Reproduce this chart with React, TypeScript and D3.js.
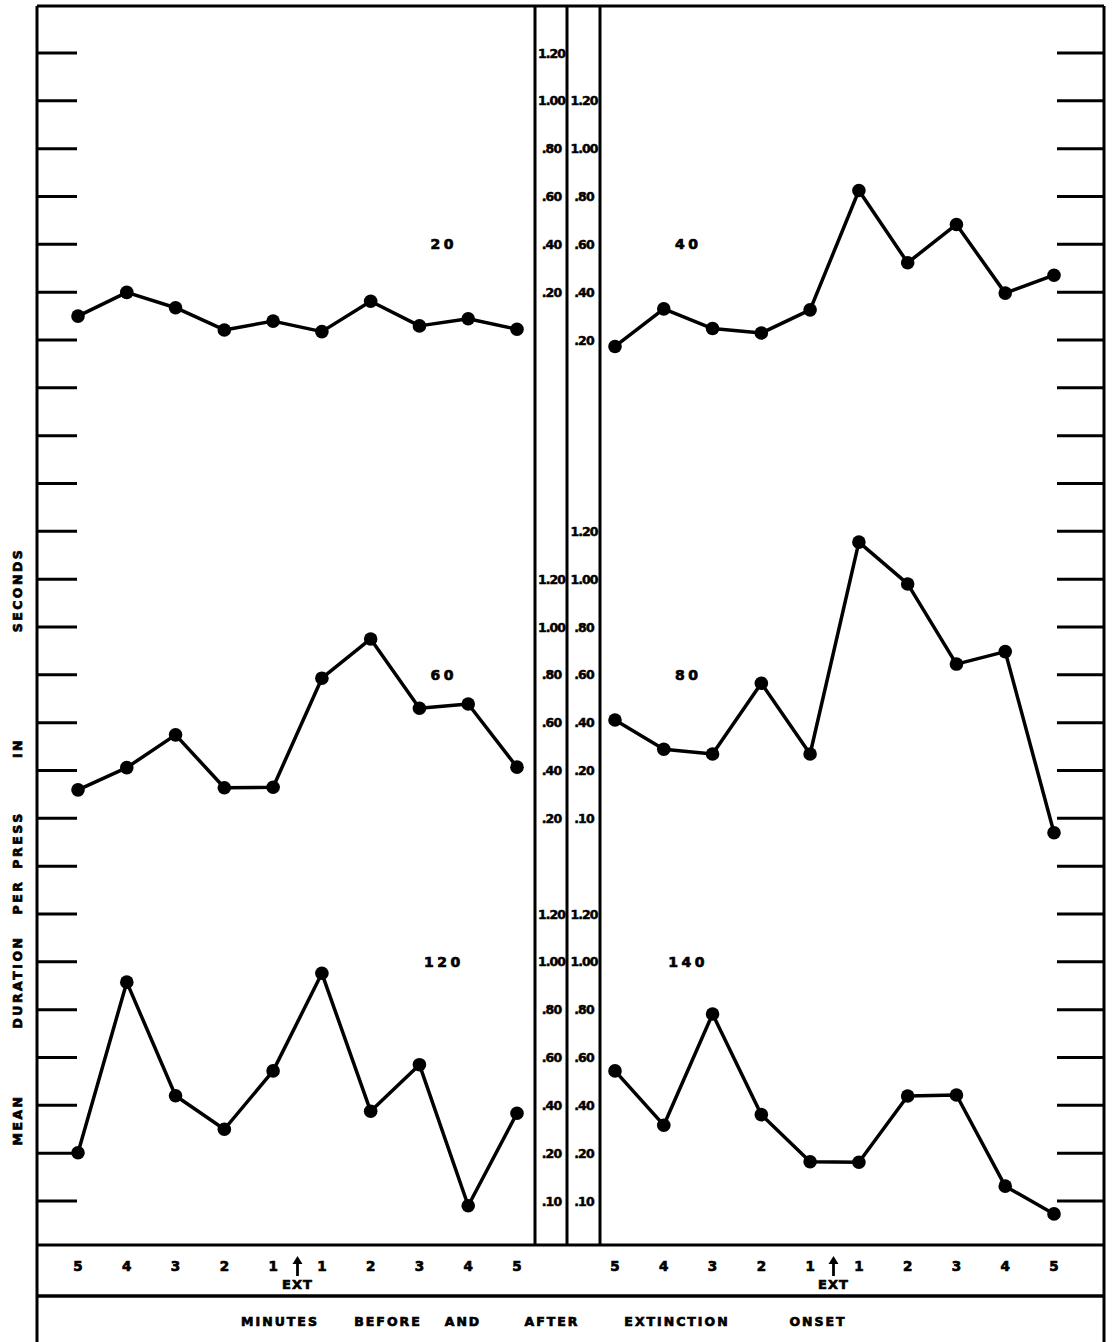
import React from "react";
import * as d3 from "d3";

// ---------- data ----------
const minuteLabels = ["5", "4", "3", "2", "1", "1", "2", "3", "4", "5"];
const scaleValues = [0.1, 0.2, 0.4, 0.6, 0.8, 1.0, 1.2];
const scaleLabels = [".10", ".20", ".40", ".60", ".80", "1.00", "1.20"];

const values20 = [0.100, 0.199, 0.135, 0.042, 0.079, 0.035, 0.162, 0.059, 0.089, 0.045];
const values40 = [0.173, 0.330, 0.248, 0.229, 0.326, 0.825, 0.523, 0.683, 0.396, 0.471];
const values60 = [0.319, 0.412, 0.549, 0.328, 0.330, 0.786, 0.950, 0.660, 0.678, 0.414];
const values80 = [0.411, 0.289, 0.269, 0.565, 0.269, 1.155, 0.980, 0.645, 0.697, 0.070];
const values120 = [0.202, 0.915, 0.440, 0.300, 0.544, 0.952, 0.375, 0.570, 0.090, 0.367];
const values140 = [0.544, 0.317, 0.782, 0.361, 0.182, 0.181, 0.439, 0.443, 0.131, 0.073];

const panelNames = ["20", "40", "60", "80", "120", "140"];
const panelValues = [values20, values40, values60, values80, values120, values140];
const panelSides = ["left", "right", "left", "right", "left", "right"];
const panelTick20 = [5, 6, 16, 15, 23, 23]; // tick index carrying the .20 label
const panelHasTenth = [false, false, false, true, true, true];
const panelLabelTick = [4, 4, 13, 13, 19, 19];

const yLabelWords = ["MEAN", "DURATION", "PER", "PRESS", "IN", "SECONDS"];
const xLabelWords = ["MINUTES", "BEFORE", "AND", "AFTER", "EXTINCTION", "ONSET"];

// ---------- layout ----------
const W = 1113;
const H = 1342;
const FL = 37, FR = 1104, FT = 6, PB = 1245, AB = 1296;
const colX = [535, 567, 600];
const FONT = "'DejaVu Sans', 'Liberation Sans', sans-serif";

const tickY = d3.scaleLinear().domain([0, 24]).range([53, 1201]);
const tickIdx = d3.range(25);
const xLeft = d3.scaleLinear().domain([0, 9]).range([78, 517]);
const xRight = d3.scaleLinear().domain([0, 9]).range([615, 1054]);

function panelScale(i: number) {
  const t = panelTick20[i];
  if (panelHasTenth[i]) {
    return d3.scaleLinear().domain([0, 0.1, 0.2, 1.2]).range([tickY(t + 2), tickY(t + 1), tickY(t), tickY(t - 5)]);
  }
  return d3.scaleLinear().domain([0, 0.2, 1.2]).range([tickY(t + 1), tickY(t), tickY(t - 5)]);
}

const heavy = { stroke: "#000", strokeWidth: 0.7, paintOrder: "stroke" as const };

export default function App() {
  const yLabelCenters = [1120, 982, 897, 840, 748, 590];
  const xLabelCenters = [280, 388, 463, 552, 677, 818];
  return (
    <svg width={W} height={H} style={{ position: "absolute", left: 0, top: 0, background: "#fff" }}
      fontFamily={FONT}>
      <rect x={0} y={0} width={W} height={H} fill="#fff" />
      {/* frame */}
      <g stroke="#000" strokeWidth={3} fill="none">
        <line x1={FL} y1={FT} x2={FR} y2={FT} />
        <line x1={FL} y1={FT} x2={FL} y2={H} />
        <line x1={FR} y1={FT} x2={FR} y2={H} />
        <line x1={FL} y1={PB} x2={FR} y2={PB} />
        <line x1={FL} y1={AB} x2={FR} y2={AB} strokeWidth={3.5} />
        {colX.map((x, i) => <line key={i} x1={x} y1={FT} x2={x} y2={PB} />)}
      </g>
      {/* side ticks */}
      <g stroke="#000" strokeWidth={3}>
        {tickIdx.map((i) => (
          <g key={i}>
            <line x1={FL} x2={77} y1={tickY(i)} y2={tickY(i)} />
            <line x1={1057} x2={FR} y1={tickY(i)} y2={tickY(i)} />
          </g>
        ))}
      </g>
      {/* center scale labels */}
      {panelNames.map((name, pi) => {
        const cx = panelSides[pi] === "left" ? (colX[0] + colX[1]) / 2 + 0.5 : (colX[1] + colX[2]) / 2 + 0.5;
        const t = panelTick20[pi];
        return (
          <g key={"s" + name} fontSize={12.5} fontWeight="bold" textAnchor="middle" letterSpacing={-0.9} {...heavy} strokeWidth={0.5}>
            {scaleValues.map((v, k) => {
              if (k === 0 && !panelHasTenth[pi]) return null;
              const idx = k === 0 ? t + 1 : t - (k - 1);
              return (
                <text key={k} x={cx} y={tickY(idx)} dy="0.36em">{scaleLabels[k]}</text>
              );
            })}
          </g>
        );
      })}
      {/* panels */}
      {panelNames.map((name, pi) => {
        const xs = panelSides[pi] === "left" ? xLeft : xRight;
        const ys = panelScale(pi);
        const vals = panelValues[pi];
        const line = d3.line<number>().x((_, i) => xs(i)).y((v) => ys(v));
        return (
          <g key={"p" + name}>
            <path d={line(vals) || ""} fill="none" stroke="#000" strokeWidth={3.5} strokeLinejoin="round" />
            {vals.map((v, i) => (
              <circle key={i} cx={xs(i)} cy={ys(v)} r={6.8} fill="#000" />
            ))}
            <text x={xs(panelSides[pi] === "left" ? 7.5 : 1.5)} y={tickY(panelLabelTick[pi])} dy="0.36em"
              textAnchor="middle" fontSize={14} fontWeight="bold" letterSpacing={3.5} {...heavy}>{name}</text>
          </g>
        );
      })}
      {/* bottom minute axis */}
      {[xLeft, xRight].map((xs, si) => {
        const ax = (xs(4) + xs(5)) / 2 + (si === 0 ? 0 : -1);
        return (
          <g key={"ax" + si} fontWeight="bold" textAnchor="middle">
            {minuteLabels.map((m, i) => (
              <text key={i} x={xs(i)} y={1266} dy="0.36em" fontSize={13.5} {...heavy}>{m}</text>
            ))}
            <line x1={ax} x2={ax} y1={1276} y2={1261} stroke="#000" strokeWidth={2.8} />
            <path d={`M${ax - 5},${1264}L${ax + 5},${1264}L${ax},${1256}Z`} fill="#000" />
            <text x={ax} y={1284} dy="0.36em" fontSize={13} letterSpacing={1} {...heavy}>EXT</text>
          </g>
        );
      })}
      {/* x title */}
      <g fontWeight="bold" fontSize={12.5} textAnchor="middle" letterSpacing={2} {...heavy}>
        {xLabelWords.map((w, i) => (
          <text key={w} x={xLabelCenters[i]} y={1321} dy="0.36em">{w}</text>
        ))}
      </g>
      {/* y title */}
      <g fontWeight="bold" fontSize={12.5} textAnchor="middle" letterSpacing={2.5} {...heavy}>
        {yLabelWords.map((w, i) => (
          <text key={w} transform={`translate(17,${yLabelCenters[i]}) rotate(-90)`} dy="0.36em">{w}</text>
        ))}
      </g>
    </svg>
  );
}
